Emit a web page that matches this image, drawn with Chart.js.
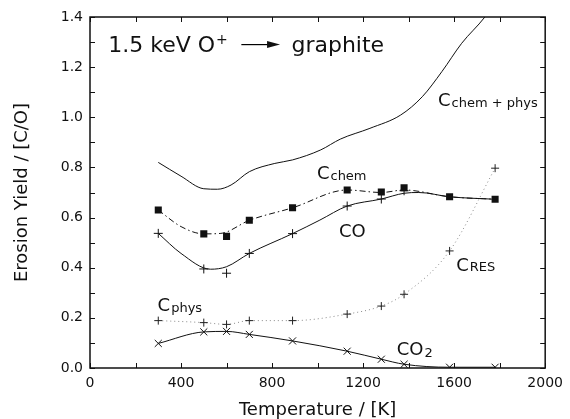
<!DOCTYPE html>
<html>
<head>
<meta charset="utf-8">
<script src="https://cdn.jsdelivr.net/npm/chart.js@4/dist/chart.umd.min.js"></script>
<style>
  html, body { margin:0; padding:0; background:#ffffff; }
  #wrap { width:570px; height:419px; }
</style>
</head>
<body>
<div id="wrap"><canvas id="yieldChart"></canvas></div>
<script>
/* ===========================
   DATA
=========================== */

// measured temperatures [K]
const tempPoints = [300, 500, 600, 700, 890, 1130, 1280, 1380, 1580, 1780];

// C chem  (filled squares)
const chemYield = [0.630, 0.535, 0.525, 0.589, 0.639, 0.710, 0.702, 0.719, 0.683, 0.673];

// CO  (plus with error bar)
const coTemps = [300, 500, 600, 700, 890, 1130, 1280, 1380];
const coYield = [0.537, 0.395, 0.378, 0.457, 0.536, 0.646, 0.674, 0.707];

// C phys / C RES (plus, dotted)
const physYield = [0.189, 0.181, 0.174, 0.189, 0.189, 0.215, 0.247, 0.294, 0.467, 0.797];

// CO2 (x marks)
const co2Yield = [0.098, 0.144, 0.146, 0.134, 0.108, 0.067, 0.035, 0.015, 0.003, 0.003];

// fitted curves
const chemCurveT = [300, 400, 500, 575, 700, 890, 1130, 1280, 1380, 1580, 1780];
const chemCurveY = [0.630, 0.564, 0.535, 0.537, 0.589, 0.639, 0.710, 0.700, 0.710, 0.683, 0.673];

const coCurveT = [300, 400, 530, 600, 700, 890, 1010, 1130, 1280, 1380, 1445, 1580, 1780];
const coCurveY = [0.537, 0.457, 0.394, 0.404, 0.457, 0.536, 0.590, 0.646, 0.674, 0.697, 0.700, 0.683, 0.673];

const sumCurveT = [300, 400, 500, 560, 620, 700, 812, 890, 1014, 1100, 1230, 1365, 1460, 1546, 1633, 1735, 1780];
const sumCurveY = [0.820, 0.765, 0.715, 0.713, 0.730, 0.783, 0.816, 0.830, 0.870, 0.913, 0.956, 1.009, 1.082, 1.182, 1.295, 1.400, 1.460];

// axis ticks
const xTicks = [0, 400, 800, 1200, 1600, 2000];
const yTicks = [0.0, 0.2, 0.4, 0.6, 0.8, 1.0, 1.2, 1.4];

/* ===========================
   HELPERS
=========================== */

function pts(xs, ys){
    return xs.map((x, i) => ({x: x, y: ys[i]}));
}

const FONT = "'DejaVu Sans', 'Liberation Sans', sans-serif";

/* ===========================
   FRAME + INWARD TICKS
=========================== */

const framePlugin = {
    id: "frame",
    afterDraw(chart){
        const {ctx, chartArea: a, scales} = chart;
        const xs = scales.x, ys = scales.y;
        ctx.save();
        ctx.strokeStyle = "#111";
        ctx.lineWidth = 1;
        for(let t = 0; t <= 2000; t += 200){
            const px = Math.round(xs.getPixelForValue(t)) + 0.5;
            ctx.beginPath();
            ctx.moveTo(px, a.bottom); ctx.lineTo(px, a.bottom - 5);
            ctx.moveTo(px, a.top); ctx.lineTo(px, a.top + 5);
            ctx.stroke();
        }
        for(let v = 0; v <= 14; v++){
            const py = Math.round(ys.getPixelForValue(v / 10)) + 0.5;
            ctx.beginPath();
            ctx.moveTo(a.left, py); ctx.lineTo(a.left + 5, py);
            ctx.moveTo(a.right, py); ctx.lineTo(a.right - 5, py);
            ctx.stroke();
        }
        ctx.lineWidth = 1.5;
        ctx.strokeRect(a.left, a.top, a.right - a.left, a.bottom - a.top);
        ctx.restore();
    }
};

/* ===========================
   TEXT LABELS IN THE PLOT
=========================== */

// [T, yield, main text, sub text, sub shift]
const seriesLabels = [
    [1529, 1.044, "C", "chem + phys", 1],
    [997, 0.755, "C", "chem", 1],
    [1094, 0.5225, "CO", "", 0],
    [1609, 0.386, "C", "RES", 0],
    [297, 0.227, "C", "phys", 1],
    [1348, 0.051, "CO", "2", 2]
];

const labelPlugin = {
    id: "labels",
    afterDraw(chart){
        const {ctx, scales} = chart;
        const xs = scales.x, ys = scales.y;
        ctx.save();
        ctx.fillStyle = "#111";
        ctx.textBaseline = "alphabetic";
        ctx.textAlign = "left";

        seriesLabels.forEach(([t, v, main, sub, shift]) => {
            const px = xs.getPixelForValue(t);
            const py = ys.getPixelForValue(v);
            ctx.font = "18px " + FONT;
            ctx.fillText(main, px, py);
            if(sub){
                const w = ctx.measureText(main).width;
                ctx.font = "13px " + FONT;
                ctx.fillText(sub, px + w + 1, py + shift);
            }
        });

        // headline: 1.5 keV O+ -> graphite
        const hx = xs.getPixelForValue(80);
        const hy = ys.getPixelForValue(1.26);
        ctx.font = "22px " + FONT;
        ctx.fillText("1.5 keV O", hx, hy);
        let w = ctx.measureText("1.5 keV O").width;
        ctx.font = "14px " + FONT;
        ctx.fillText("+", hx + w + 1, hy - 8);

        const ax0 = xs.getPixelForValue(665);
        const ax1 = xs.getPixelForValue(835);
        const ay = hy - 7.5;
        ctx.lineWidth = 1.2;
        ctx.beginPath();
        ctx.moveTo(ax0, ay); ctx.lineTo(ax1 - 8, ay);
        ctx.stroke();
        ctx.beginPath();
        ctx.moveTo(ax1, ay);
        ctx.lineTo(ax1 - 13, ay - 3.5);
        ctx.lineTo(ax1 - 13, ay + 3.5);
        ctx.closePath();
        ctx.fill();

        ctx.font = "22px " + FONT;
        ctx.fillText("graphite", xs.getPixelForValue(885), hy);
        ctx.restore();
    }
};

/* ===========================
   CHART
=========================== */

const lineBase = {
    borderColor: "#111",
    backgroundColor: "#111",
    borderWidth: 1,
    pointRadius: 0,
    cubicInterpolationMode: "monotone",
    fill: false
};

new Chart(
    document.getElementById("yieldChart"),
    {
        type: "scatter",
        data: {
            datasets: [
                Object.assign({}, lineBase, {
                    label: "Cchem+phys",
                    data: pts(sumCurveT, sumCurveY),
                    showLine: true
                }),
                Object.assign({}, lineBase, {
                    label: "Cchem curve",
                    data: pts(chemCurveT, chemCurveY),
                    showLine: true,
                    borderDash: [6, 3, 1.5, 3]
                }),
                Object.assign({}, lineBase, {
                    label: "CO curve",
                    data: pts(coCurveT, coCurveY),
                    showLine: true
                }),
                Object.assign({}, lineBase, {
                    label: "Cphys",
                    data: pts(tempPoints, physYield),
                    showLine: true,
                    borderColor: "#888",
                    borderDash: [1, 3],
                    pointStyle: "cross",
                    pointRadius: 4,
                    pointBorderColor: "#222",
                    pointBorderWidth: 1
                }),
                Object.assign({}, lineBase, {
                    label: "CO2",
                    data: pts(tempPoints, co2Yield),
                    showLine: true,
                    pointStyle: "crossRot",
                    pointRadius: 5,
                    pointBorderColor: "#111",
                    pointBorderWidth: 1
                }),
                {
                    label: "Cchem",
                    data: pts(tempPoints, chemYield),
                    showLine: false,
                    pointStyle: "rect",
                    pointRadius: 5,
                    backgroundColor: "#111",
                    borderColor: "#111",
                    borderWidth: 0
                },
                {
                    label: "CO",
                    data: pts(coTemps, coYield),
                    showLine: false,
                    pointStyle: "cross",
                    pointRadius: 4.5,
                    borderColor: "#111",
                    borderWidth: 1
                }
            ]
        },
        options: {
            responsive: true,
            maintainAspectRatio: false,
            animation: false,
            layout: {
                padding: {left: 0, right: 20, top: 17, bottom: 0}
            },
            plugins: {
                legend: {display: false},
                tooltip: {enabled: false}
            },
            scales: {
                x: {
                    type: "linear",
                    min: 0,
                    max: 2000,
                    afterBuildTicks: s => { s.ticks = xTicks.map(v => ({value: v})); },
                    afterFit: s => { s.height = 51; },
                    grid: {display: false, drawTicks: false},
                    border: {display: false},
                    ticks: {
                        color: "#111",
                        padding: 7,
                        maxRotation: 0,
                        font: {family: FONT, size: 14},
                        callback: v => String(v)
                    },
                    title: {
                        display: true,
                        text: "Temperature / [K]",
                        color: "#111",
                        font: {family: FONT, size: 18, lineHeight: 1},
                        padding: {top: 0, bottom: 0}
                    }
                },
                y: {
                    type: "linear",
                    min: 0,
                    max: 1.4,
                    afterBuildTicks: s => { s.ticks = yTicks.map(v => ({value: v})); },
                    afterFit: s => { s.width = 90; },
                    grid: {display: false, drawTicks: false},
                    border: {display: false},
                    ticks: {
                        color: "#111",
                        padding: 7,
                        font: {family: FONT, size: 14},
                        callback: v => v.toFixed(1)
                    },
                    title: {
                        display: true,
                        text: "Erosion Yield / [C/O]",
                        color: "#111",
                        font: {family: FONT, size: 18, lineHeight: 1.2},
                        padding: {top: 12, bottom: 0}
                    }
                }
            }
        },
        plugins: [framePlugin, labelPlugin]
    }
);
</script>
</body>
</html>
